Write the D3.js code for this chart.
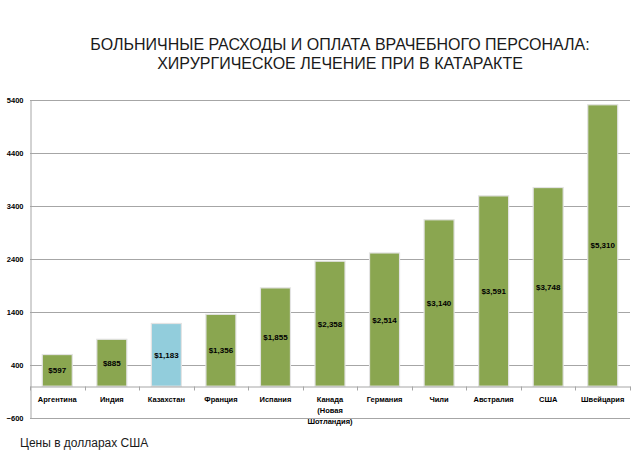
<!DOCTYPE html>
<html>
<head>
<meta charset="utf-8">
<script src="https://cdn.jsdelivr.net/npm/d3@7"></script>
<style>
  body { margin: 0; background: #fff; }
  text { font-family: "Liberation Sans", Arial, sans-serif; }
</style>
</head>
<body>
<div id="chart"></div>
<script>
var countries = ["Аргентина", "Индия", "Казахстан", "Франция", "Испания", "Канада|(Новая|Шотландия)", "Германия", "Чили", "Австралия", "США", "Швейцария"];
var costs = [597, 885, 1183, 1356, 1855, 2358, 2514, 3140, 3591, 3748, 5310];
var costLabels = ["$597", "$885", "$1,183", "$1,356", "$1,855", "$2,358", "$2,514", "$3,140", "$3,591", "$3,748", "$5,310"];
var yTicks = [-600, 400, 1400, 2400, 3400, 4400, 5400];
var highlight = "Казахстан";

var W = 637, H = 465;
var svg = d3.select("#chart").append("svg").attr("width", W).attr("height", H);

var x = d3.scaleBand().domain(countries).range([30, 630]).paddingInner(0.45).paddingOuter(0.225);
var y = d3.scaleLinear().domain([-600, 5400]).range([418, 100]);

// gridlines
svg.append("g").selectAll("line").data(yTicks).enter().append("line")
  .attr("x1", 30).attr("x2", 630)
  .attr("y1", function(d) { return Math.round(y(d)) + 0.5; })
  .attr("y2", function(d) { return Math.round(y(d)) + 0.5; })
  .attr("stroke", "#a6a6a6").attr("stroke-width", 1);

// y axis
var yAxis = d3.axisLeft(y).tickValues(yTicks).tickSize(0).tickPadding(7).tickFormat(d3.format("d"));
var gy = svg.append("g").attr("transform", "translate(30.5,0)").call(yAxis);
gy.select(".domain").attr("stroke", "#a6a6a6");
gy.selectAll("text").attr("font-size", 7.5).attr("font-weight", "bold").attr("fill", "#000");

// bars
var bars = svg.append("g").selectAll("rect").data(countries).enter().append("rect")
  .attr("x", function(d) { return x(d); })
  .attr("width", x.bandwidth())
  .attr("y", function(d, i) { return y(costs[i]); })
  .attr("height", function(d, i) { return y(0) - y(costs[i]); })
  .attr("fill", function(d) { return d === highlight ? "#92cddc" : "#8aa650"; })
  .attr("stroke", "#e3e3e3").attr("stroke-width", 1.2);

// category axis
var xAxis = d3.axisBottom(x).tickSize(0).tickFormat("");
var gx = svg.append("g").attr("transform", "translate(0," + (Math.round(y(0)) + 0.5) + ")").call(xAxis);
gx.select(".domain").attr("stroke", "#a6a6a6");
var step = x.step();
var bounds = d3.range(countries.length + 1).map(function(i) { return 30 + i * (600 / countries.length); });
gx.append("g").selectAll("line").data(bounds).enter().append("line")
  .attr("x1", function(d) { return Math.round(d) + 0.5; }).attr("x2", function(d) { return Math.round(d) + 0.5; })
  .attr("y1", 0).attr("y2", 4).attr("stroke", "#a6a6a6");

// category labels
svg.append("g").selectAll("text").data(countries).enter().append("text")
  .attr("x", function(d) { return x(d) + x.bandwidth() / 2; })
  .attr("y", y(0) + 16)
  .attr("text-anchor", "middle")
  .attr("font-size", 7.5).attr("font-weight", "bold").attr("fill", "#000")
  .each(function(d) {
    var t = d3.select(this);
    d.split("|").forEach(function(line, i) {
      t.append("tspan").attr("x", x(d) + x.bandwidth() / 2).attr("dy", i === 0 ? 0 : 11).text(line);
    });
  });

// value labels
svg.append("g").selectAll("text").data(countries).enter().append("text")
  .attr("x", function(d) { return x(d) + x.bandwidth() / 2; })
  .attr("y", function(d, i) { return (y(costs[i]) + y(0)) / 2 + 3; })
  .attr("text-anchor", "middle")
  .attr("font-size", 8).attr("font-weight", "bold").attr("fill", "#000")
  .text(function(d, i) { return costLabels[i]; });

// title
svg.append("text").attr("x", 340).attr("y", 50).attr("text-anchor", "middle")
  .attr("font-size", 16).attr("fill", "#1a1a1a")
  .text("БОЛЬНИЧНЫЕ РАСХОДЫ И ОПЛАТА ВРАЧЕБНОГО ПЕРСОНАЛА:");
svg.append("text").attr("x", 340).attr("y", 69).attr("text-anchor", "middle")
  .attr("font-size", 16).attr("fill", "#1a1a1a")
  .text("ХИРУРГИЧЕСКОЕ ЛЕЧЕНИЕ ПРИ В КАТАРАКТЕ");

svg.append("text").attr("x", 20).attr("y", 447)
  .attr("font-size", 12).attr("fill", "#1a1a1a")
  .text("Цены в долларах США");
</script>
</body>
</html>
